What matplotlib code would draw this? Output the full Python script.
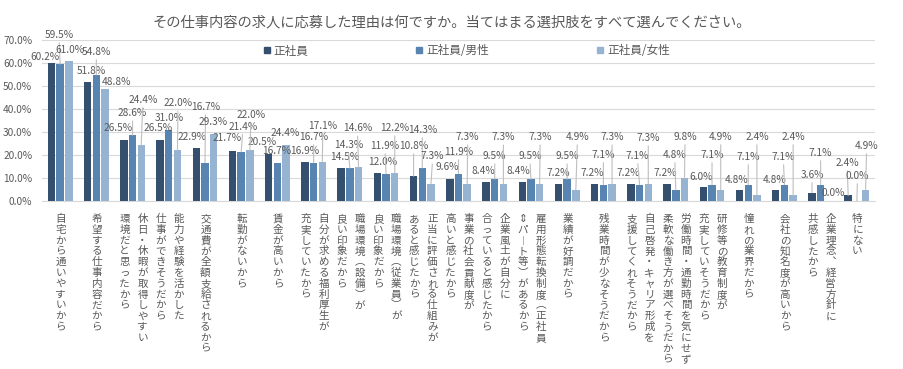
import matplotlib
matplotlib.use("Agg")
import matplotlib.pyplot as plt
from matplotlib.lines import Line2D
import numpy as np

plt.rcParams['font.family'] = ['Noto Sans CJK JP', 'DejaVu Sans']

# ---------------- data ----------------
title = "その仕事内容の求人に応募した理由は何ですか。当てはまる選択肢をすべて選んでください。"
series_names = ["正社員", "正社員/男性", "正社員/女性"]
categories = [
    "自宅から通いやすいから",
    "希望する仕事内容だから",
    "休日・休暇が取得しやすい\n環境だと思ったから",
    "能力や経験を活かした\n仕事ができそうだから",
    "交通費が全額支給されるから",
    "転勤がないから",
    "賃金が高いから",
    "自分が求める福利厚生が\n充実していたから",
    "職場環境（設備）が\n良い印象だから",
    "職場環境（従業員）が\n良い印象だから",
    "正当に評価される仕組みが\nあると感じたから",
    "事業の社会貢献度が\n高いと感じたから",
    "企業風土が自分に\n合っていると感じたから",
    "雇用形態転換制度（正社員\n⇔パート等）があるから",
    "業績が好調だから",
    "残業時間が少なそうだから",
    "自己啓発・キャリア形成を\n支援してくれそうだから",
    "労働時間・通勤時間を気にせず\n柔軟な働き方が選べそうだから",
    "研修等の教育制度が\n充実していそうだから",
    "憧れの業界だから",
    "会社の知名度が高いから",
    "企業理念、経営方針に\n共感したから",
    "特にない",
]
seishain = [60.2, 51.8, 26.5, 26.5, 22.9, 21.7, 20.5, 16.9, 14.5, 12.0, 10.8, 9.6,
            8.4, 8.4, 7.2, 7.2, 7.2, 7.2, 6.0, 4.8, 4.8, 3.6, 2.4]
seishain_male = [59.5, 54.8, 28.6, 31.0, 16.7, 21.4, 16.7, 16.7, 14.3, 11.9, 14.3, 11.9,
                 9.5, 9.5, 9.5, 7.1, 7.1, 4.8, 7.1, 7.1, 7.1, 7.1, 0.0]
seishain_female = [61.0, 48.8, 24.4, 22.0, 29.3, 22.0, 24.4, 17.1, 14.6, 12.2, 7.3, 7.3,
                   7.3, 7.3, 4.9, 7.3, 7.3, 9.8, 4.9, 2.4, 2.4, 0.0, 4.9]
yticks = [0, 10, 20, 30, 40, 50, 60, 70]

# ---------------- styling ----------------
colors = ["#34506E", "#5784B1", "#96B4D1"]
text_color = "#595959"
grid_color = "#D9D9D9"

# data-label offsets (pixels, relative to bar top) reproducing the manual label placement
off_all = [(-6, 5.5), (3.5, 11), (-5.5, 12), (-1.5, 12), (-4, 11), (-5, 13), (-6.5, 12),
           (-0.5, 11), (4, 10.6), (5, 11), (0, 30), (-2.5, 12), (-3, 10.7), (-3.5, 10.7),
           (0, 11.4), (-2, 11.4), (-2.5, 11.4), (-1.5, 11.4), (-2, 10), (-3, 10), (-1.5, 10),
           (0, 17.7), (-1, 32.5)]
off_male = [(-1, 29), (0, 23), (0, 22), (0, 12), (0.5, 55.6), (1.5, 25), (-1, 11.6),
            (0, 25.6), (-1.5, 23), (-1, 27.6), (0, 38), (0, 21.6), (0, 23), (-1, 23),
            (0, 23), (0, 29.7), (-2, 28.7), (-1, 35), (0, 29.7), (0, 27.7), (-1, 27.7),
            (0, 31.7), (0.5, 25)]
off_female = [(1.5, 10.7), (11.5, 7), (1.5, 45), (0.5, 47), (-1, 11.6), (1, 35), (-0.5, 12),
              (0.5, 35.7), (-1, 39), (0, 45), (1.5, 28), (0.5, 47), (0, 47), (0.5, 47),
              (1.5, 52.7), (0, 47), (0, 46), (0.5, 41.5), (0, 52.7), (0, 58.5), (0, 58.5),
              (3.5, 8), (1, 43.7)]

fig = plt.figure(figsize=(9.04, 3.69), dpi=100)
ax = fig.add_axes([42 / 904, 1 - 201 / 369, 833 / 904, 161 / 369])

x = np.arange(len(categories))
shift = 0.24
width = 0.205
series = [seishain, seishain_male, seishain_female]
offsets = [off_all, off_male, off_female]
for k, (vals, offs) in enumerate(zip(series, offsets)):
    xs = x + (k - 1) * shift
    ax.bar(xs, vals, width, color=colors[k], zorder=3)
    for xi, v, (dx, dy) in zip(xs, vals, offs):
        ap = None
        if dy > 16:
            ap = dict(arrowstyle='-', color='#BFBFBF', lw=0.8, shrinkA=0, shrinkB=0,
                      relpos=(0.5, 0.0))
        ax.annotate(f"{v:.1f}%", xy=(xi, v), xytext=(dx, dy), textcoords='offset pixels',
                    ha='center', va='center', fontsize=7.3, color=text_color,
                    arrowprops=ap, zorder=4)

ax.set_xlim(-0.5, len(categories) - 0.5)
ax.set_ylim(0, 70)
ax.set_yticks(yticks)
ax.set_yticklabels([f"{t:.1f}%" for t in yticks])
ax.tick_params(axis='y', length=0, pad=7, labelsize=7.3, labelcolor=text_color)
ax.set_xticks([])
ax.grid(axis='y', color=grid_color, lw=0.8, zorder=0)
for s in ['top', 'right', 'left']:
    ax.spines[s].set_visible(False)
ax.spines['bottom'].set_color(grid_color)
ax.spines['bottom'].set_linewidth(0.8)

# vertical category labels (tategaki): first line is the rightmost column
vert_map = {'（': '︵', '）': '︶', 'ー': '︱', '、': '︑', '⇔': '⇕'}
cat_fs = 7.6
pitch = 10.8
top_gap = 12
for i, cat in enumerate(categories):
    cols = cat.split("\n")
    n = len(cols)
    for j, col in enumerate(cols):
        if n == 1:
            cx = 0.5
        else:
            cx = 10 - j * 18
        for k, ch in enumerate(col):
            ch = vert_map.get(ch, ch)
            base_y = -(top_gap + k * pitch + 0.86 * cat_fs * 100 / 72)
            ax.annotate(ch, xy=(i, 0), xycoords=('data', 'axes fraction'),
                        xytext=(cx, base_y), textcoords='offset pixels',
                        ha='center', va='baseline', fontsize=cat_fs, color=text_color,
                        annotation_clip=False)

# legend
handles = [Line2D([0], [0], marker='s', linestyle='none', markersize=5,
                  markerfacecolor=c, markeredgecolor=c) for c in colors]
fig.legend(handles, series_names, loc='center', bbox_to_anchor=(466.5 / 904, 1 - 51 / 369),
           ncol=3, frameon=False, fontsize=8.4, labelcolor=text_color,
           handlelength=0.6, handletextpad=0.3, columnspacing=9.2)

fig.text(452 / 904, 1 - 22 / 369, title, ha='center', va='center', fontsize=10.3,
         color=text_color)

fig.savefig("out.png", dpi=100, facecolor='white')
